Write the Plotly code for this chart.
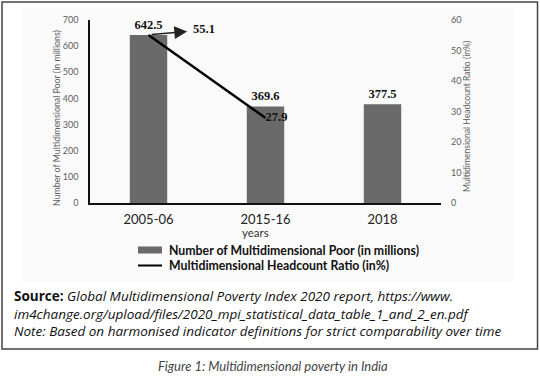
import plotly.graph_objects as go

# ---- data ----
years = ["2005-06", "2015-16", "2018"]
poor_millions = [642.5, 369.6, 377.5]
hcr_years = ["2005-06", "2015-16"]
hcr_percent = [55.1, 27.9]
left_ticks = [0, 100, 200, 300, 400, 500, 600, 700]
right_ticks = [0, 10, 20, 30, 40, 50, 60]

W, H = 540, 383
ML, MR, MT, MB = 90, 99, 20, 180
PW, PH = W - ML - MR, H - MT - MB
SANS = "Lato"
NOTE = "Open Sans"
SERIF = "Liberation Serif"
GRAY = "#5e5e5e"


def px(x):
    return (x - ML) / PW


def py(y):
    return (H - MB - y) / PH


fig = go.Figure()

fig.add_trace(go.Bar(
    x=years, y=poor_millions, name="Number of Multidimensional Poor (in millions)",
    marker=dict(color="#6a6a6a", line=dict(width=0)), width=0.32,
    text=[f"{v:.1f}" for v in poor_millions], textposition="outside",
    textfont=dict(family=SERIF, size=12.5, color="#111111", weight="bold"),
    cliponaxis=False, showlegend=False, yaxis="y",
))

fig.add_trace(go.Scatter(
    x=hcr_years, y=hcr_percent, name="Multidimensional Headcount Ratio (in%)",
    mode="lines+text", line=dict(color="#000000", width=2.5),
    text=["", f"{hcr_percent[1]:.1f}"], textposition="middle right",
    textfont=dict(family=SERIF, size=12.5, color="#111111", weight="bold"),
    cliponaxis=False, showlegend=False, yaxis="y2",
))

# arrow pointing to 55.1 label
fig.add_annotation(x=0.33, y=56.2, xref="x", yref="y2", text="", showarrow=True,
                   ax=-37, ay=3, arrowhead=2, arrowsize=1.7, arrowwidth=1.5,
                   arrowcolor="#222222")
fig.add_annotation(x=0.36, y=57.0, xref="x", yref="y2", text=f"<b>{hcr_percent[0]:.1f}</b>",
                   showarrow=False, xanchor="left", yanchor="middle",
                   font=dict(family=SERIF, size=12.5, color="#111111"))

# background panel and frame
fig.add_shape(type="rect", xref="paper", yref="paper", x0=px(22), x1=px(513),
              y0=py(282), y1=py(7), fillcolor="#fafafa", line=dict(width=0), layer="below")
fig.add_shape(type="rect", xref="paper", yref="paper", x0=px(2), x1=px(537.5),
              y0=py(349), y1=py(2), fillcolor="rgba(0,0,0,0)",
              line=dict(color="#444444", width=1.5))


def note(x, y, text, family, size, color, xanchor="left", angle=0, align="left"):
    fig.add_annotation(x=px(x), y=py(y), xref="paper", yref="paper", text=text,
                       xanchor=xanchor, yanchor="middle", showarrow=False, textangle=angle,
                       align=align, font=dict(family=family, size=size, color=color))


# axis titles
note(57, 118, "Number of Multidimensional Poor (in millions)", SANS, 8.8, GRAY, "center", -90)
note(467, 117, "Multidimensional Headcount Ratio (in%)", SANS, 8.6, GRAY, "center", -90)
note(255, 232, "years", SANS, 11.5, "#333333", "center")

# legend (manual)
fig.add_shape(type="rect", xref="paper", yref="paper", x0=px(138), x1=px(162),
              y0=py(253.5), y1=py(246.5), fillcolor="#6a6a6a", line=dict(width=0))
fig.add_shape(type="line", xref="paper", yref="paper", x0=px(138), x1=px(162),
              y0=py(265.5), y1=py(265.5), line=dict(color="#000000", width=2))
note(167, 250, "<b>Number of Multidimensional Poor (in millions)</b>", SANS, 12.3, "#111111")
note(167, 265.5, "<b>Multidimensional Headcount Ratio (in%)</b>", SANS, 12.3, "#111111")

# source and notes
note(12, 313,
     "<b>Source:</b> <i>Global Multidimensional Poverty Index 2020 report, https://www.</i><br>"
     "<i>im4change.org/upload/files/2020_mpi_statistical_data_table_1_and_2_en.pdf</i><br>"
     "<i>Note: Based on harmonised indicator definitions for strict comparability over time</i>",
     NOTE, 13.5, "#111111")
note(273, 366, "<i>Figure 1: Multidimensional poverty in India</i>", SANS, 13, "#444444", "center")

fig.update_layout(
    width=W, height=H,
    margin=dict(l=ML, r=MR, t=MT, b=MB, pad=0, autoexpand=False),
    paper_bgcolor="white", plot_bgcolor="rgba(0,0,0,0)",
    xaxis=dict(type="category", range=[-0.5, 2.5], showline=True, linecolor="#111111",
               linewidth=1.5, showgrid=False, ticks="", zeroline=False,
               tickfont=dict(family=SANS, size=13, color="#222222"), ticklabelstandoff=4),
    yaxis=dict(range=[0, 700], tickvals=left_ticks, showline=True, linecolor="#111111",
               linewidth=1.5, showgrid=False, ticks="", zeroline=False,
               tickfont=dict(family=SANS, size=9, color=GRAY), ticklabelstandoff=8),
    yaxis2=dict(range=[0, 60], tickvals=right_ticks, overlaying="y", side="right",
                showline=False, showgrid=False, ticks="", zeroline=False,
                tickfont=dict(family=SANS, size=9, color=GRAY), ticklabelstandoff=9),
    showlegend=False,
)

fig.write_html("out.html", config={"displayModeBar": False},
               post_script="document.body.style.margin='0';document.body.style.overflow='hidden';")
